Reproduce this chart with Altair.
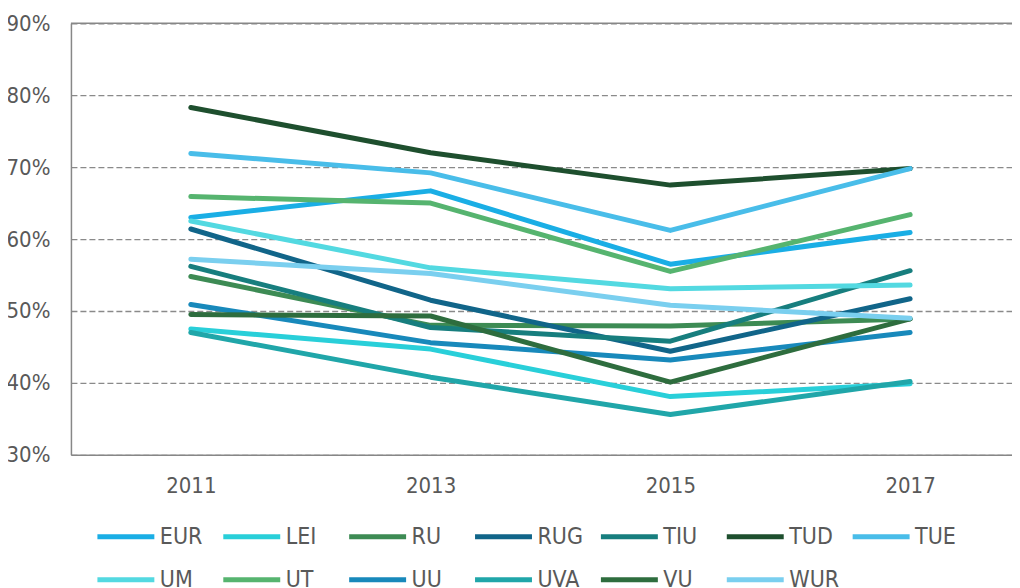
import altair as alt
import pandas as pd

years = [2011, 2013, 2015, 2017]
series_names = ["EUR", "LEI", "RU", "RUG", "TIU", "TUD", "TUE",
                "UM", "UT", "UU", "UVA", "VU", "WUR"]
EUR = [63.0, 66.7, 56.5, 60.9]
LEI = [47.5, 44.7, 38.1, 39.9]
RU = [54.8, 48.0, 47.9, 48.9]
RUG = [61.4, 51.5, 44.4, 51.7]
TIU = [56.2, 47.7, 45.8, 55.6]
TUD = [78.3, 72.0, 67.5, 69.8]
TUE = [71.9, 69.2, 61.2, 69.8]
UM = [62.5, 56.0, 53.1, 53.6]
UT = [65.9, 65.0, 55.5, 63.4]
UU = [50.9, 45.6, 43.2, 47.0]
UVA = [47.0, 40.8, 35.6, 40.2]
VU = [49.5, 49.3, 40.1, 48.9]
WUR = [57.2, 55.2, 50.8, 49.0]
colors = ["#1aaee5", "#29cfd9", "#3d8b54", "#116589", "#177e7e", "#1e4f2e", "#49bde9",
          "#53d9e1", "#56b46f", "#1889bb", "#20a6a9", "#2e6d3e", "#7acfef"]
y_ticks = [0.3, 0.4, 0.5, 0.6, 0.7, 0.8, 0.9]

all_values = [EUR, LEI, RU, RUG, TIU, TUD, TUE, UM, UT, UU, UVA, VU, WUR]
rows = []
for name, vals in zip(series_names, all_values):
    for yr, v in zip(years, vals):
        rows.append({"year": yr, "value": v / 100.0, "series": name})
df = pd.DataFrame(rows)

FONT = "'DejaVu Sans Condensed', 'DejaVu Sans', sans-serif"
TXT = "#595959"
GRAY = "#878787"

lines = alt.Chart(df).mark_line(strokeWidth=5, strokeCap="round", strokeJoin="round").encode(
    x=alt.X("year:Q", scale=alt.Scale(domain=[2010, 2017.85], nice=False, zero=False),
            axis=alt.Axis(values=years, format="d", title=None, grid=False, ticks=False,
                          labelFont=FONT, labelFontSize=22, labelColor=TXT, labelPadding=21,
                          domainColor=GRAY, domainWidth=1.5)),
    y=alt.Y("value:Q", scale=alt.Scale(domain=[0.3, 0.9], nice=False, zero=False),
            axis=alt.Axis(values=y_ticks, format=".0%", title=None, ticks=False,
                          labelFont=FONT, labelFontSize=22, labelColor=TXT, labelPadding=21,
                          domainColor=GRAY, domainWidth=1.5,
                          grid=True, gridDash=[6, 3], gridColor="#8a8a8a", gridWidth=1.3)),
    color=alt.Color("series:N", scale=alt.Scale(domain=series_names, range=colors),
                    legend=alt.Legend(title=None, orient="none", legendX=38, legendY=497,
                                      columns=7, direction="horizontal", gridAlign="all",
                                      symbolType="M-2,0L2,0", symbolSize=812,
                                      symbolStrokeWidth=5, labelOffset=17,
                                      columnPadding=3, rowPadding=14, padding=0,
                                      labelFont=FONT, labelFontSize=23, labelColor=TXT,
                                      labelLimit=200)),
)

top = alt.Chart(pd.DataFrame({"y": [0.9]})).mark_rule(color=GRAY, strokeWidth=1.5).encode(y="y:Q")

chart = alt.layer(lines, top).properties(
    width=942, height=432,
    autosize=alt.AutoSizeParams(type="none"),
    padding={"left": 63, "top": 15, "right": 0, "bottom": 132},
).configure_view(stroke=None)

chart.save("out.html", embed_options={"renderer": "svg", "actions": False})
